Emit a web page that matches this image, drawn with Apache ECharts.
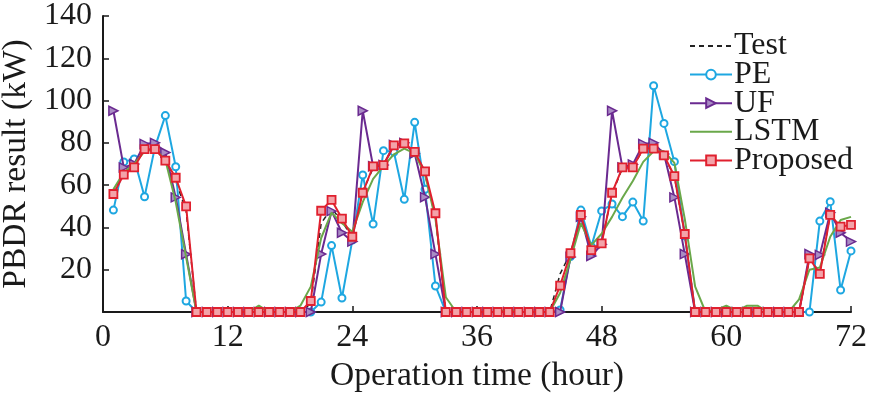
<!DOCTYPE html>
<html>
<head>
<meta charset="utf-8">
<script src="https://cdn.jsdelivr.net/npm/echarts@6/dist/echarts.min.js"></script>
<style>
html,body{margin:0;padding:0;background:#fff;}
#c{width:869px;height:396px;}
</style>
</head>
<body>
<div id="c"></div>
<script>
var hours = [1,2,3,4,5,6,7,8,9,10,11,12,13,14,15,16,17,18,19,20,21,22,23,24,25,26,27,28,29,30,31,32,33,34,35,36,37,38,39,40,41,42,43,44,45,46,47,48,49,50,51,52,53,54,55,56,57,58,59,60,61,62,63,64,65,66,67,68,69,70,71,72];
var xTicks = [0,12,24,36,48,60,72];
var yTicks = [20,40,60,80,100,120,140];

var testData = [56,66,69,77,78,72,62,48, 0,0,0,0,0,0,0,0,0,0,0,
  4,42,49,43,35,57,68,70,78,79,76,65,45, 0,0,0,0,0,0,0,0,0,0,0,
  18,28,45,29,33,56,68,68.5,77,77,74,64,37, 0,0,0,0,0,0,0,0,0,0,0,
  25,19,46,40,41];
var peData = [48.2,71,72.4,54.5,78,92.9,68.7,5.2, 0,0,0,0,0,0,0,0,0,0,0,
  0,4.7,31.4,6.6,34,64.8,41.6,76.3,75.7,53.3,89.7,58,12.3, 0,0,0,0,0,0,0,0,0,0,0,
  1,26.2,48.2,31,47.8,51.1,45.1,52,43,107,89.2,71.1,36, 0,0,0,0,0,0,0,0,0,0,0,
  0,43,52.2,10.4,28.9];
var ufData = [95.2,68.4,70,79.5,80,75.4,54.2,27.3, 0,0,0,0,0,0,0,0,0,0,0,
  0,27.4,47.7,37.5,33.3,95.2,68.9,69.5,79,80,75,54.3,27.4, 0,0,0,0,0,0,0,0,0,0,0,
  0,26,45,26.5,32,95.2,68.4,69.8,79.5,80,74.7,54.2,27.4, 0,0,0,0,0,0,0,0,0,0,0,
  27.4,27,47,37.5,33.3];
var lstmData = [58,66,70,76,77,72,52,26, 0,0,0,0,0,0,3,0,0,0,3,
  12,35,47,42,38,52,63,69,74.6,77.3,75,65,44, 7,0,0,0,0,0,1,0,0,0,0,
  9,25,42,31.6,37,45,54,62,71,76,76,70.5,44, 12,0,1,3,0.5,3,3,0,0,0,6,
  20,21,35.6,43.5,45];
var proposedData = [55.8,65,68.4,77,77,71.6,63.5,50, 0,0,0,0,0,0,0,0,0,0,0,
  5.2,47.9,53,44.2,35.6,56.4,68.9,69.5,78.8,79.8,75.7,66.5,46.7, 0,0,0,0,0,0,0,0,0,0,0,
  12.5,27.8,45.9,29.3,32.5,56.4,68.4,68.4,77.3,77.3,74.1,64.3,36.9, 0,0,0,0,0,0,0,0,0,0,0,
  25.4,18,45.9,40.4,41.2];

function pairs(arr){ return hours.map(function(h,i){ return [h, arr[i]]; }); }

var FONT = 'Liberation Serif';
var TXT = '#1a1a1a';
var chart = echarts.init(document.getElementById('c'), null, {renderer:'canvas'});
chart.setOption({
  animation:false,
  backgroundColor:'#fff',
  grid:{left:103, right:18, top:16, bottom:84, containLabel:false, outerBoundsMode:'none'},
  legend:{
    orient:'vertical', left:684, top:25, itemGap:-3.4, itemWidth:42, itemHeight:12,
    textStyle:{fontFamily:FONT, fontSize:32, color:TXT, padding:[0,0,0,-3]},
    data:[
      {name:'Test', itemStyle:{opacity:0}},
      {name:'PE'},
      {name:'UF'},
      {name:'LSTM', itemStyle:{opacity:0}},
      {name:'Proposed'}
    ]
  },
  xAxis:{
    type:'value', min:0, max:72, interval:12,
    name:'Operation time (hour)', nameLocation:'middle', nameGap:44,
    nameTextStyle:{fontFamily:FONT, fontSize:33.5, color:TXT},
    axisLine:{show:true, lineStyle:{color:TXT, width:2}},
    axisTick:{show:true, inside:true, length:6, lineStyle:{color:TXT, width:1.5}},
    axisLabel:{fontFamily:FONT, fontSize:32, color:TXT, margin:10,
      formatter:function(v){ return xTicks.indexOf(v)>=0 ? String(v) : ''; }},
    splitLine:{show:false}
  },
  yAxis:{
    type:'value', min:0, max:140, interval:20,
    name:'PBDR result (kW)', nameLocation:'middle', nameGap:68, nameRotate:90,
    nameTextStyle:{fontFamily:FONT, fontSize:33.5, color:TXT},
    axisLine:{show:true, lineStyle:{color:TXT, width:2}},
    axisTick:{show:true, inside:true, length:6, lineStyle:{color:TXT, width:1.5}},
    axisLabel:{fontFamily:FONT, fontSize:32, color:TXT, margin:11,
      formatter:function(v){ return yTicks.indexOf(v)>=0 ? String(v) : ''; }},
    splitLine:{show:false}
  },
  series:[
    {name:'Test', type:'line', data:pairs(testData), showSymbol:false, symbol:'none',
     lineStyle:{color:'#222', width:1.5, type:[5,4]}, itemStyle:{color:'#222'}, z:1},
    {name:'PE', type:'line', data:pairs(peData), symbol:'emptyCircle', symbolSize:7,
     lineStyle:{color:'#1ea7e1', width:2}, itemStyle:{color:'#1ea7e1', borderWidth:1.5}, z:2},
    {name:'UF', type:'line', data:pairs(ufData), symbol:'triangle', symbolSize:9, symbolRotate:-90,
     lineStyle:{color:'#6a2a90', width:2}, itemStyle:{color:'#a98cc4', borderColor:'#6a2a90', borderWidth:1.5}, z:3},
    {name:'LSTM', type:'line', data:pairs(lstmData), symbol:'none', showSymbol:false,
     lineStyle:{color:'#6aa84a', width:2}, itemStyle:{color:'#6aa84a'}, z:4},
    {name:'Proposed', type:'line', data:pairs(proposedData), symbol:'rect', symbolSize:8,
     lineStyle:{color:'#e0202e', width:2}, itemStyle:{color:'#f3a3a9', borderColor:'#e0202e', borderWidth:1.8}, z:5}
  ]
});
</script>
</body>
</html>
